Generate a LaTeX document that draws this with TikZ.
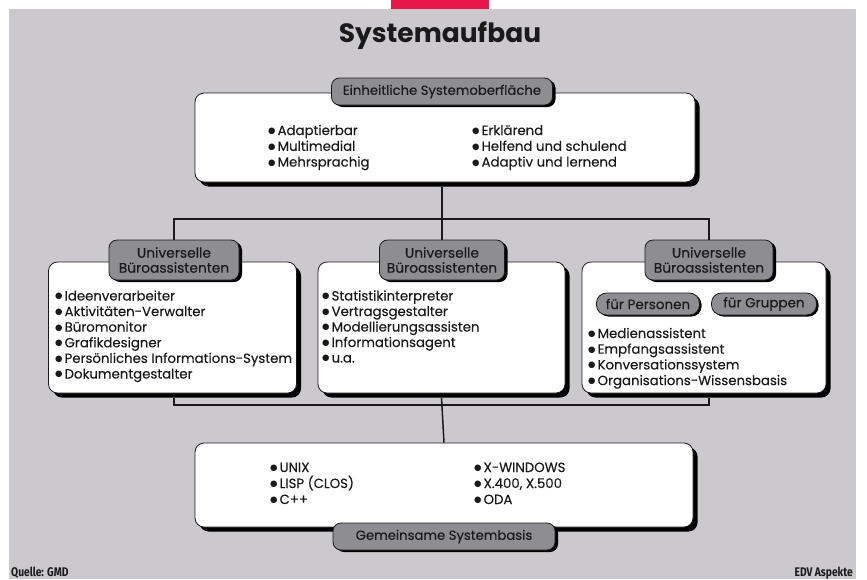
\documentclass[tikz,border=0pt]{standalone}
\usepackage{fontspec}
\setmainfont{Poppins}[FakeBold=0.25]
\newfontfamily\titlefont{Poppins}
\newfontfamily\condfont[FakeStretch=0.82]{Fira Sans}
\newfontfamily\symfont{DejaVu Sans}
\usetikzlibrary{shadows}
\definecolor{bggray}{HTML}{CBC9CD}
\definecolor{tabgray}{HTML}{8E8D91}
\definecolor{inkc}{HTML}{1A1A1A}
\definecolor{accent}{HTML}{E8174A}
\newcommand\bul{\raisebox{1.6pt}{\symfont\fontsize{8.5}{8}\selectfont ●}\hspace{2pt}}
\begin{document}
\begin{tikzpicture}[x=1pt,y=-1pt,
  panel/.style={draw=inkc, line width=0.8pt, fill=white, rounded corners=9pt,
    drop shadow={shadow xshift=4.5pt, shadow yshift=-4.5pt, fill=black, opacity=1},
    inner sep=0pt},
  tabbox/.style={draw=inkc, line width=0.8pt, fill=tabgray, rounded corners=8pt,
    drop shadow={shadow xshift=3pt, shadow yshift=-2pt, fill=black, opacity=1},
    inner sep=0pt, align=center, text=inkc, font=\fontsize{13.2}{15}\selectfont},
  pill/.style={draw=inkc, line width=0.8pt, fill=tabgray, rounded corners=10pt,
    drop shadow={shadow xshift=2pt, shadow yshift=-1.5pt, fill=black, opacity=1},
    inner sep=0pt, text=inkc, font=\fontsize{13.5}{14}\selectfont},
  item/.style={inner sep=0pt, anchor=base west, text=inkc, font=\fontsize{13.3}{14}\selectfont},
  wire/.style={draw=inkc, line width=1.5pt},
  foot/.style={inner sep=0pt, text=inkc, font=\condfont\bfseries\fontsize{12.5}{13}\selectfont}
]
\useasboundingbox (0,0) rectangle (867,579);
\fill[white] (0,0) rectangle (867,579);
\fill[bggray] (9,9) rectangle (856,579);
\fill[accent] (391,0) rectangle (489,9);

\node[inner sep=0pt, text=inkc, font=\titlefont\bfseries\fontsize{26.5}{28}\selectfont] (title) at (440,36) {Systemaufbau};

% top box
\node[panel, minimum width=500pt, minimum height=89pt] (top) at (445,137.5) {};
\node[tabbox, minimum width=221pt, minimum height=27pt] (toptab) at (442,91.5) {Einheitliche Systemoberfläche};
\foreach \t [count=\i] in {Adaptierbar, Multimedial, Mehrsprachig}
  \node[item] (tl\i) at (268,{135+15.8*(\i-1)}) {\bul\t};
\foreach \t [count=\i] in {Erklärend, Helfend und schulend, Adaptiv und lernend}
  \node[item] (tr\i) at (472,{135+15.8*(\i-1)}) {\bul\t};

% middle boxes
\node[panel, minimum width=248pt, minimum height=131pt] (lbox) at (172.5,327.5) {};
\node[panel, minimum width=247pt, minimum height=131pt] (mbox) at (441.5,327.5) {};
\node[panel, minimum width=244pt, minimum height=131pt] (rbox) at (704,327.5) {};

\node[tabbox, minimum width=130pt, minimum height=40pt, font=\fontsize{13.8}{15}\selectfont] (ltab) at (174,260) {Universelle\\Büroassistenten};
\node[tabbox, minimum width=125pt, minimum height=40pt, font=\fontsize{13.8}{15}\selectfont] (mtab) at (442,260) {Universelle\\Büroassistenten};
\node[tabbox, minimum width=128pt, minimum height=40pt, font=\fontsize{13.8}{15}\selectfont] (rtab) at (709,260) {Universelle\\Büroassistenten};

\foreach \t [count=\i] in {Ideenverarbeiter, Aktivitäten-Verwalter, Büromonitor, Grafikdesigner, Persönliches Informations-System, Dokumentgestalter}
  \node[item] (la\i) at (55,{300.5+15.6*(\i-1)}) {\bul\t};
\foreach \t [count=\i] in {Statistikinterpreter, Vertragsgestalter, Modellierungsassisten, Informationsagent, u.a.}
  \node[item] (ma\i) at (322,{300.5+15.5*(\i-1)}) {\bul\t};

\node[pill, minimum width=103pt, minimum height=22pt] (pers) at (648,304) {für Personen};
\node[pill, minimum width=105pt, minimum height=22pt] (grup) at (764,304) {für Gruppen};
\foreach \t [count=\i] in {Medienassistent, Empfangsassistent, Konversationssystem, Organisations-Wissensbasis}
  \node[item] (ra\i) at (588,{338+15.7*(\i-1)}) {\bul\t};

% bottom box
\node[panel, minimum width=498pt, minimum height=84pt] (bbox) at (444,485) {};
\node[tabbox, minimum width=222pt, minimum height=27pt] (btab) at (444,536.5) {Gemeinsame Systembasis};
\foreach \t [count=\i] in {UNIX, LISP (CLOS), C++}
  \node[item] (bl\i) at (270,{472+16*(\i-1)}) {\bul\t};
\foreach \t [count=\i] in {X-WINDOWS, {X.400, X.500}, ODA}
  \node[item] (br\i) at (474,{472+16*(\i-1)}) {\bul\t};

% connectors
\coordinate (upbar) at (442,219);
\coordinate (lowbar) at (442,405);
\draw[wire] (mtab.north |- top.south) ++(0,4.5) -- (mtab.north);
\draw[wire] (ltab.north) |- (upbar) -| (rtab.north);
\draw[wire] (ltab.north |- lbox.south) ++(0,4.5) |- (lowbar) -| ([yshift=-4.5pt]rtab.north |- rbox.south);
\draw[wire] (mbox.south) ++(0,4.5) -- (bbox.north);

\node[foot, anchor=base west] (src) at (11,576) {Quelle: GMD};
\node[foot, anchor=base east] (pub) at (853,576) {EDV Aspekte};
\end{tikzpicture}
\end{document}
